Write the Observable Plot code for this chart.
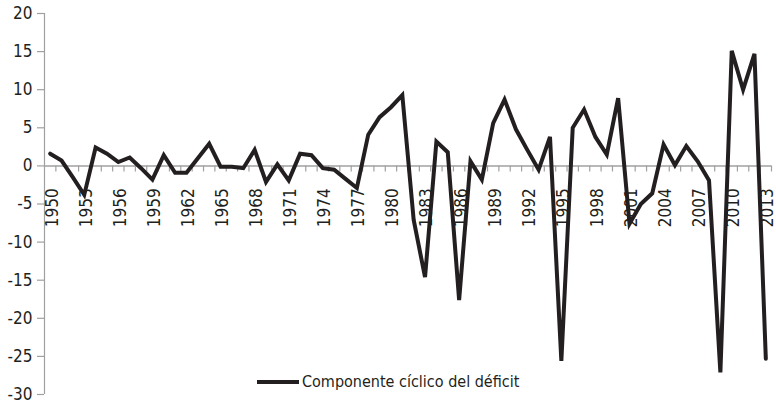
<!DOCTYPE html>
<html>
<head>
<meta charset="utf-8">
<script src="https://cdn.jsdelivr.net/npm/d3@7"></script>
<script src="https://cdn.jsdelivr.net/npm/@observablehq/plot@0.6"></script>
<style>
  body { margin: 0; background: #fff; }
  #wrap { position: relative; width: 776px; height: 409px; font-family: "DejaVu Sans Condensed", "Roboto", sans-serif; }
  #legend { position: absolute; left: 257px; top: 372px; display: flex; align-items: center; font-size: 16px; color: #231f20; white-space: nowrap; }
  #legend .sw { width: 42px; height: 4px; background: #231f20; margin-right: 3px; }
</style>
</head>
<body>
<div id="wrap">
  <div id="chart"></div>
  <div id="legend"><span class="sw"></span><span>Componente cíclico del déficit</span></div>
</div>
<script>
const years = d3.range(1950, 2014);
const values = [
  1.6, 0.7, -1.5, -3.8, 2.4, 1.6, 0.5, 1.1, -0.3, -1.8,
  1.4, -0.9, -0.9, 1.0, 2.9, -0.1, -0.1, -0.3, 2.1, -2.1,
  0.2, -1.9, 1.6, 1.4, -0.3, -0.5, -1.7, -2.9, 4.1, 6.4,
  7.7, 9.3, -7.1, -14.6, 3.2, 1.8, -17.6, 0.6, -1.8, 5.6,
  8.7, 4.8, 2.1, -0.5, 3.8, -25.6, 5.0, 7.4, 3.8, 1.5,
  8.9, -7.6, -5.0, -3.6, 2.8, 0.1, 2.6, 0.6, -1.9, -27.1,
  15.1, 10.0, 14.7, -25.3
];
const legendLabel = "Componente cíclico del déficit";
const yTicks = [-30, -25, -20, -15, -10, -5, 0, 5, 10, 15, 20];
const xTickLabels = d3.range(1950, 2014, 3);

const data = years.map((y, i) => ({year: y, value: values[i]}));
const xmin = 1949.5, xmax = 2013.5;
const boundaries = d3.range(1950.5, 2014, 1);

const axisGray = "#a0a0a0";
const ink = "#231f20";
const labelOffset = -2.95; // label anchor below the zero line, in y units

const chart = Plot.plot({
  width: 776,
  height: 409,
  marginLeft: 44,
  marginRight: 5,
  marginTop: 13,
  marginBottom: 15,
  style: { fontFamily: '"DejaVu Sans Condensed", "Roboto", sans-serif', fontSize: "17px", background: "#fff" },
  x: { type: "linear", domain: [xmin, xmax], axis: null },
  y: { domain: [-30, 20], axis: null },
  marks: [
    Plot.ruleX([xmin], { y1: -30, y2: 20, stroke: axisGray, strokeWidth: 1.2 }),
    Plot.ruleY(yTicks, { y: d => d, x1: xmin, x2: xmin, insetLeft: -7, stroke: axisGray, strokeWidth: 1.2 }),
    Plot.text(yTicks, { y: d => d, x: xmin, dx: -12, textAnchor: "end", text: d => String(d), fill: ink, fontSize: 17 }),
    Plot.ruleY([0], { x1: xmin, x2: xmax, stroke: axisGray, strokeWidth: 1.5 }),
    Plot.ruleX(boundaries, { x: d => d, y1: 0, y2: -0.8, stroke: axisGray, strokeWidth: 1.2 }),
    Plot.text(xTickLabels, { x: d => d, y: () => labelOffset, dx: 2, rotate: -90, textAnchor: "end", text: d => String(d), fill: ink, fontSize: 17 }),
    Plot.line(data, { x: "year", y: "value", stroke: ink, strokeWidth: 4, strokeLinejoin: "miter", strokeMiterlimit: 4 })
  ]
});
document.getElementById("chart").appendChild(chart);
</script>
</body>
</html>
